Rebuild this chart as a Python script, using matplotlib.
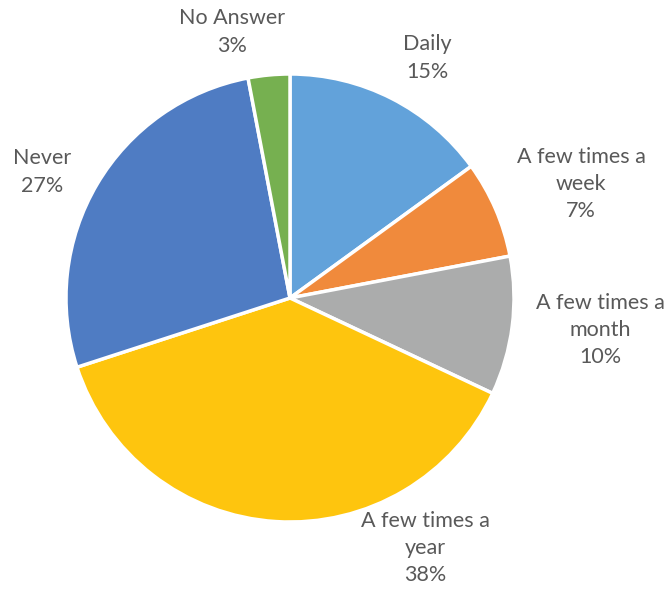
import numpy as np
import matplotlib
matplotlib.use("Agg")
import matplotlib.pyplot as plt

# Survey answers, clockwise from 12 o'clock
labels = ["Daily", "A few times a\nweek", "A few times a\nmonth",
          "A few times a\nyear", "Never", "No Answer"]
shares = [15, 7, 10, 38, 27, 3]
colors = ["#62A2DA", "#F08A3C", "#ABACAC", "#FEC50E", "#4F7CC3", "#76B050"]

# where each data label sits (x, y in pie radius units)
label_pos = [(0.612, 1.071), (1.299, 0.509), (1.384, -0.143),
             (0.603, -1.116), (-1.107, 0.5625), (-0.259, 1.1875)]

W, H = 668, 592
cx, cy, r = 290, 298, 224

fig = plt.figure(figsize=(W / 100, H / 100), dpi=100)
ax = fig.add_axes([0, 0, 1, 1])

ax.pie(shares, colors=colors, startangle=90, counterclock=False, radius=1.0,
       wedgeprops=dict(edgecolor="white", linewidth=2.5))

ax.set_xlim(-cx / r, (W - cx) / r)
ax.set_ylim(-(H - cy) / r, cy / r)
ax.set_aspect("equal")
ax.axis("off")

for lab, val, (x, y) in zip(labels, shares, label_pos):
    ax.text(x, y, f"{lab}\n{val}%", ha="center", va="center",
            fontsize=15.5, family="Lato", color="#595959", linespacing=1.45)

fig.savefig("out.png", dpi=100)
